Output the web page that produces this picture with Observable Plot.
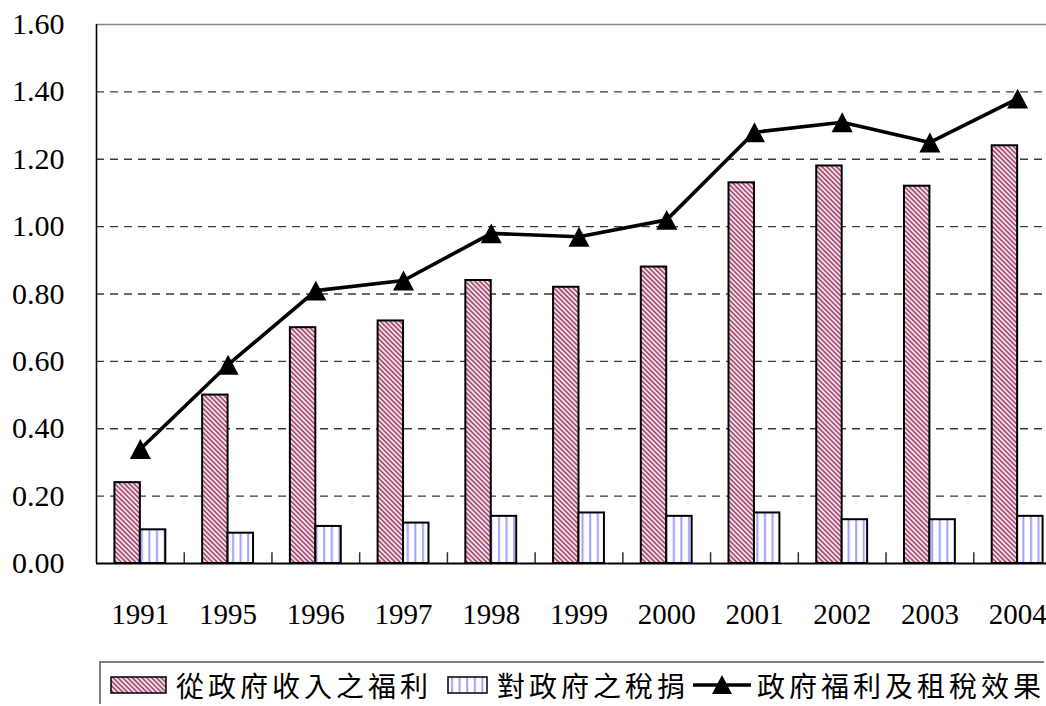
<!DOCTYPE html>
<html>
<head>
<meta charset="utf-8">
<script src="https://cdn.jsdelivr.net/npm/d3@7"></script>
<script src="https://cdn.jsdelivr.net/npm/@observablehq/plot@0.6"></script>
<style>
  html, body { margin: 0; padding: 0; background: #fff; overflow: hidden; }
  #wrap { position: relative; width: 1046px; height: 706px; overflow: hidden; }
  #legend {
    position: absolute; left: 99px; top: 661px; width: 945px; height: 43px;
    border: 2px solid #808080; border-right: none; border-bottom: none; box-sizing: border-box;
    display: flex; align-items: center; padding-top: 2px;
    font-family: "Noto Sans CJK TC", sans-serif; font-size: 28px; line-height: 38px; letter-spacing: 4px; color: #000;
  }
  #legend .item { display: flex; align-items: center; white-space: nowrap; }
  #legend svg { display: block; }
</style>
</head>
<body>
<div id="wrap">
  <div id="chart"></div>
  <div id="legend"></div>
</div>
<script>
// ---- data ----
const years = ["1991", "1995", "1996", "1997", "1998", "1999", "2000", "2001", "2002", "2003", "2004"];
const benefits = [0.24, 0.50, 0.70, 0.72, 0.84, 0.82, 0.88, 1.13, 1.18, 1.12, 1.24];
const taxes = [0.10, 0.09, 0.11, 0.12, 0.14, 0.15, 0.14, 0.15, 0.13, 0.13, 0.14];
const netEffect = [0.34, 0.59, 0.81, 0.84, 0.98, 0.97, 1.02, 1.28, 1.31, 1.25, 1.38];
const yTicks = [0, 0.2, 0.4, 0.6, 0.8, 1.0, 1.2, 1.4, 1.6];
const seriesNames = ["從政府收入之福利", "對政府之稅捐", "政府福利及租稅效果"];

const data = years.map((year, i) => ({i, year, benefit: benefits[i], tax: taxes[i], net: netEffect[i]}));

const barW = 0.29; // bar width in category units

const patternDefs = (suffix) => `
  <pattern id="hatchRed${suffix}" patternUnits="userSpaceOnUse" width="3.4" height="3.4" patternTransform="rotate(-45)">
    <rect width="3.4" height="3.4" fill="#fbeef3"/>
    <line x1="1" y1="0" x2="1" y2="3.4" stroke="#a3456f" stroke-width="1.7"/>
  </pattern>
  <pattern id="stripeBlue${suffix}" patternUnits="userSpaceOnUse" width="7.6" height="10" patternTransform="translate(1,0)">
    <rect width="7.6" height="10" fill="#ffffff"/>
    <line x1="4" y1="0" x2="4" y2="10" stroke="#a0a0ff" stroke-width="2"/>
  </pattern>`;

// triangle centered on its bounding box (like the spreadsheet marker)
const triangleBox = {
  draw(context, size) {
    const s = Math.sqrt(size);
    const w = 1.32 * s, h = 1.25 * s;
    context.moveTo(0, -h / 2);
    context.lineTo(w / 2, h / 2);
    context.lineTo(-w / 2, h / 2);
    context.closePath();
  }
};

const chart = Plot.plot({
  width: 1046,
  height: 650,
  marginTop: 24,
  marginLeft: 96,
  marginRight: 0,
  marginBottom: 87,
  x: {type: "linear", domain: [0, 11], range: [96, 1061]},
  y: {domain: [0, 1.6], range: [563, 24]},
  style: {fontFamily: "'Liberation Serif', 'Times New Roman', serif", fontSize: "30px", color: "#000", background: "#fff"},
  marks: [
    () => {
      const defs = d3.create("svg:defs");
      defs.html(patternDefs(""));
      return defs.node();
    },
    Plot.ruleY(yTicks.filter(v => v > 0 && v < 1.6), {stroke: "#3a3a3a", strokeWidth: 1.3, strokeDasharray: "8,6", strokeOpacity: 1}),
    Plot.ruleY([1.6], {stroke: "#888", strokeWidth: 1.6}),
    Plot.rectY(data, {x1: d => d.i + 0.5 - barW, x2: d => d.i + 0.5, y1: 0, y2: "benefit",
      fill: "url(#hatchRed)", stroke: "#000", strokeWidth: 2}),
    Plot.rectY(data, {x1: d => d.i + 0.5, x2: d => d.i + 0.5 + barW, y1: 0, y2: "tax",
      fill: "url(#stripeBlue)", stroke: "#000", strokeWidth: 2}),
    Plot.ruleX(d3.range(1, 12), {y1: 0, y2: 0.032, stroke: "#333", strokeWidth: 1.5}),
    Plot.ruleX([0], {stroke: "#000", strokeWidth: 1.6}),
    Plot.ruleY([0], {stroke: "#000", strokeWidth: 2}),
    Plot.line(data, {x: d => d.i + 0.5, y: "net", stroke: "#000", strokeWidth: 3.6}),
    Plot.dot(data, {x: d => d.i + 0.5, y: "net", symbol: triangleBox, r: 9, fill: "#000", stroke: "none"}),
    Plot.axisY({ticks: yTicks, tickFormat: d => d.toFixed(2), tickSize: 0, tickPadding: 32, fontSize: 30}),
    Plot.axisX({ticks: d3.range(11).map(i => i + 0.5), tickFormat: d => years[Math.floor(d)], tickSize: 0, tickPadding: 40, fontSize: 29})
  ]
});
document.getElementById("chart").appendChild(chart);

// ---- legend ----
const legend = d3.select("#legend");
const ns = "http://www.w3.org/2000/svg";
function swatch(w, fillId) {
  return `<svg width="${w}" height="18" xmlns="${ns}"><defs>${patternDefs("L")}</defs>
    <rect x="1" y="1" width="${w - 2}" height="16" fill="url(#${fillId}L)" stroke="#000" stroke-width="1.5"/></svg>`;
}
const items = [
  {html: swatch(57, "hatchRed"), ml: 9, text: seriesNames[0], gap: 9},
  {html: swatch(41, "stripeBlue"), ml: 15, text: seriesNames[1], gap: 9},
  {html: `<svg width="58" height="22" xmlns="${ns}"><line x1="0" y1="11" x2="58" y2="11" stroke="#000" stroke-width="3.6"/>
    <path d="M29,1 L39,20 L19,20 Z" fill="#000"/></svg>`, ml: 4, text: seriesNames[2], gap: 6}
];
items.forEach(it => {
  const div = legend.append("div").attr("class", "item").style("margin-left", it.ml + "px");
  div.append("span").html(it.html);
  div.append("span").style("margin-left", it.gap + "px").text(it.text);
});
</script>
</body>
</html>
